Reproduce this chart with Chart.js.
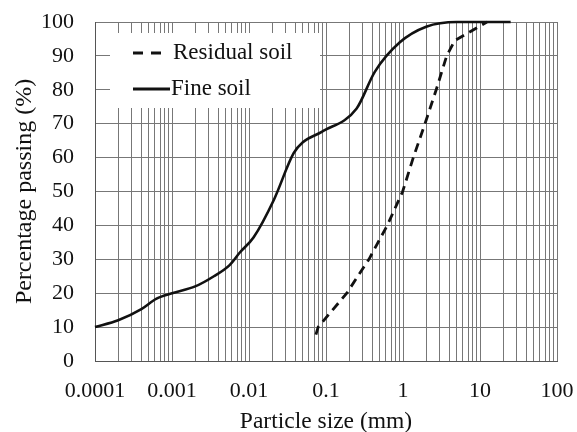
<!DOCTYPE html>
<html>
<head>
<meta charset="utf-8">
<script src="https://cdn.jsdelivr.net/npm/chart.js@4/dist/chart.umd.min.js"></script>
<style>
  html, body { margin: 0; padding: 0; background: #fff; }
  #wrap { width: 577px; height: 432px; position: relative; }
</style>
</head>
<body>
<div id="wrap"><canvas id="chart"></canvas></div>
<script>
// particle size (mm) and percentage passing
const fineSize = [0.0001, 0.0002, 0.0004, 0.00063, 0.001, 0.002, 0.0035, 0.0056, 0.0076, 0.0115, 0.021, 0.038, 0.05, 0.088, 0.25, 0.43, 0.91, 2.0, 5.0, 25];
const finePass = [10, 12, 15.3, 18.4, 20, 22, 25, 28.3, 32, 36.5, 47.5, 61.3, 64.5, 67.6, 74.5, 85.3, 94, 98.6, 100, 100];

const residualSize = [0.074, 0.079, 0.186, 0.361, 0.625, 0.99, 1.36, 1.93, 2.7, 3.69, 4.7, 12.3];
const residualPass = [7.8, 10, 20, 30, 40, 50, 60, 70, 80, 90, 94.5, 100];

const xDecades = [0.0001, 0.001, 0.01, 0.1, 1, 10, 100];
const xTickLabels = ["0.0001", "0.001", "0.01", "0.1", "1", "10", "100"];
const yTicks = [0, 10, 20, 30, 40, 50, 60, 70, 80, 90, 100];

const seriesNames = ["Residual soil", "Fine soil"];

const serif = "'Liberation Serif', 'Times New Roman', serif";
const gridGrey = "#777";
const ink = "#111";

function toPoints(xs, ys) {
  return xs.map((x, i) => ({ x: x, y: ys[i] }));
}

// white legend box sitting inside the plot, over the grid
const insideLegend = {
  id: "insideLegend",
  beforeDatasetsDraw(chart) {
    const ctx = chart.ctx;
    const a = chart.chartArea;
    const bx = a.left + 15, by = a.top + 11, bw = 210, bh = 75;
    ctx.save();
    ctx.fillStyle = "#fff";
    ctx.fillRect(bx, by, bw, bh);

    const lx0 = a.left + 38, lx1 = a.left + 72;
    const rows = [a.top + 31, a.top + 67];
    ctx.strokeStyle = ink;
    ctx.lineWidth = 2.8;
    ctx.setLineDash([10, 8]);
    ctx.beginPath();
    ctx.moveTo(lx0, rows[0]);
    ctx.lineTo(lx1 - 4, rows[0]);
    ctx.stroke();
    ctx.setLineDash([]);
    ctx.beginPath();
    ctx.moveTo(lx0, rows[1]);
    ctx.lineTo(lx1 + 3, rows[1]);
    ctx.stroke();

    ctx.fillStyle = ink;
    ctx.font = "23px " + serif;
    ctx.textBaseline = "middle";
    ctx.textAlign = "left";
    ctx.fillText(seriesNames[0], lx1 + 6, rows[0]);
    ctx.fillText(seriesNames[1], lx1 + 4, rows[1]);
    ctx.restore();
  }
};

new Chart(document.getElementById("chart"), {
  type: "line",
  data: {
    datasets: [
      {
        label: seriesNames[0],
        data: toPoints(residualSize, residualPass),
        borderColor: ink,
        borderWidth: 2.8,
        borderDash: [9, 6],
        pointRadius: 0,
        tension: 0,
        clip: false
      },
      {
        label: seriesNames[1],
        data: toPoints(fineSize, finePass),
        borderColor: ink,
        borderWidth: 2.6,
        pointRadius: 0,
        cubicInterpolationMode: "monotone",
        clip: false
      }
    ]
  },
  options: {
    responsive: true,
    maintainAspectRatio: false,
    animation: false,
    layout: { padding: { top: 22, right: 20, left: 0, bottom: 0 } },
    plugins: {
      legend: { display: false },
      tooltip: { enabled: false }
    },
    scales: {
      x: {
        type: "logarithmic",
        min: xDecades[0],
        max: xDecades[xDecades.length - 1],
        afterFit: s => {
          s.height = 71;
          s.paddingLeft = 0;
          s.paddingRight = 0;
        },
        afterBuildTicks: s => {
          const t = [];
          for (let i = 0; i < xDecades.length - 1; i++) {
            for (let m = 1; m <= 9; m++) t.push({ value: xDecades[i] * m });
          }
          t.push({ value: xDecades[xDecades.length - 1] });
          s.ticks = t;
        },
        grid: { color: gridGrey, lineWidth: 1, drawTicks: false },
        border: { color: "#555", width: 1 },
        ticks: {
          autoSkip: false,
          maxRotation: 0,
          padding: 17,
          color: ink,
          font: { family: serif, size: 22 },
          callback: v => {
            const i = xDecades.findIndex(d => Math.abs(Math.log10(v) - Math.log10(d)) < 1e-6);
            return i >= 0 ? xTickLabels[i] : "";
          }
        },
        title: {
          display: true,
          text: "Particle size (mm)",
          color: ink,
          font: { family: serif, size: 23.5, lineHeight: 1 },
          padding: { top: 0, bottom: -2 }
        }
      },
      y: {
        min: yTicks[0],
        max: yTicks[yTicks.length - 1],
        afterFit: s => {
          s.width = 95;
          s.paddingTop = 0;
          s.paddingBottom = 0;
        },
        afterBuildTicks: s => { s.ticks = yTicks.map(v => ({ value: v })); },
        grid: { color: gridGrey, lineWidth: 1, drawTicks: false },
        border: { color: "#555", width: 1 },
        ticks: {
          padding: 21,
          color: ink,
          font: { family: serif, size: 22 }
        },
        title: {
          display: true,
          text: "Percentage passing (%)",
          color: ink,
          font: { family: serif, size: 24, lineHeight: 1 },
          padding: { top: 13, bottom: 0 }
        }
      }
    }
  },
  plugins: [insideLegend]
});
</script>
</body>
</html>
